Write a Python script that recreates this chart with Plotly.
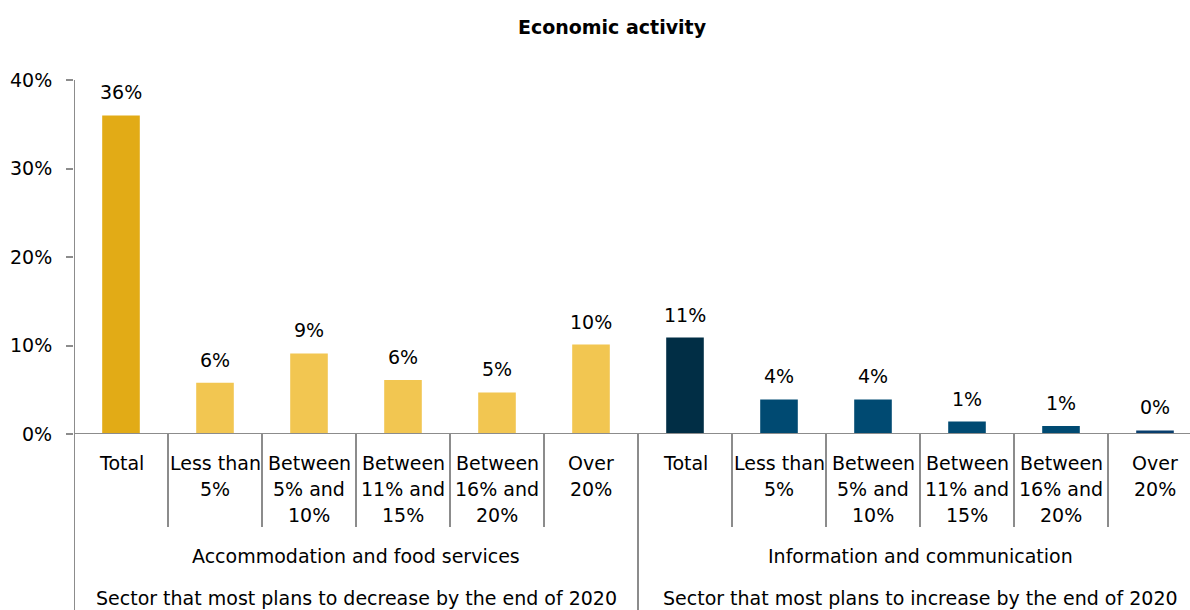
import plotly.graph_objects as go

# Survey shares by planned change in economic activity
categories = [
    "Total", "Less than<br>5%", "Between<br>5% and<br>10%", "Between<br>11% and<br>15%",
    "Between<br>16% and<br>20%", "Over<br>20%",
    "Total", "Less than<br>5%", "Between<br>5% and<br>10%", "Between<br>11% and<br>15%",
    "Between<br>16% and<br>20%", "Over<br>20%",
]
sectors = ["Accommodation and food services", "Information and communication"]
groups = [
    "Sector that most plans to decrease by the end of 2020",
    "Sector that most plans to increase by the end of 2020",
]
values = [36.0, 5.8, 9.1, 6.1, 4.7, 10.1, 10.9, 3.9, 3.9, 1.4, 0.9, 0.4]
colors = [
    "#E2AB16", "#F2C651", "#F2C651", "#F2C651", "#F2C651", "#F2C651",
    "#012E45", "#004A72", "#004A72", "#004A72", "#004A72", "#093E6D",
]
y_ticks = [0, 10, 20, 30, 40]

FONT = "DejaVu Sans"
AXIS_GREY = "#8C8C8C"
LINE_STEP = 26
x_idx = list(range(len(values)))

fig = go.Figure(
    go.Bar(
        x=x_idx,
        y=values,
        marker=dict(color=colors, line=dict(width=0)),
        width=0.4,
        hoverinfo="skip",
    )
)

annotations = []
# value labels above the bars
for i, v in enumerate(values):
    annotations.append(dict(
        x=i, xref="x", y=v, yref="y", yanchor="middle", yshift=23,
        text=f"{round(v):.0f}%", showarrow=False,
        font=dict(family=FONT, size=19, color="#000000"),
    ))
# first level: answer brackets, one annotation per text line
for i, c in enumerate(categories):
    for k, line in enumerate(c.split("<br>")):
        annotations.append(dict(
            x=i, xref="x", y=0, yref="paper", yanchor="middle",
            yshift=-29 - k * LINE_STEP,
            text=line, showarrow=False, align="center",
            font=dict(family=FONT, size=19, color="#000000"),
        ))
# second and third levels: sector and group
for g in range(2):
    mid = g * 6 + 2.5
    annotations.append(dict(
        x=mid, xref="x", y=0, yref="paper", yanchor="middle", yshift=-122,
        text=sectors[g], showarrow=False,
        font=dict(family=FONT, size=19, color="#000000"),
    ))
    annotations.append(dict(
        x=mid, xref="x", y=0, yref="paper", yanchor="middle", yshift=-164,
        text=groups[g], showarrow=False,
        font=dict(family=FONT, size=19, color="#000000"),
    ))

plot_h = 354
shapes = []
# separators between answer brackets
for i in range(1, len(values)):
    full = (i % 6 == 0)
    shapes.append(dict(
        type="line", xref="x", yref="paper",
        x0=i - 0.5, x1=i - 0.5, y0=0,
        y1=-(176 / plot_h) if full else -(93 / plot_h),
        line=dict(color=AXIS_GREY, width=2),
    ))
# left axis extended through the category rows
shapes.append(dict(
    type="line", xref="x", yref="paper",
    x0=-0.5, x1=-0.5, y0=1, y1=-(176 / plot_h),
    line=dict(color=AXIS_GREY, width=2),
))
# baseline
shapes.append(dict(
    type="line", xref="x", yref="y",
    x0=-0.5, x1=11.5, y0=0, y1=0,
    line=dict(color=AXIS_GREY, width=2),
))

fig.update_layout(
    width=1190,
    height=610,
    margin=dict(l=74, r=0, t=80, b=176),
    paper_bgcolor="white",
    plot_bgcolor="white",
    showlegend=False,
    title=dict(
        text="<b>Economic activity</b>",
        x=(612 - 74) / 1116, xref="paper", xanchor="center",
        y=1 - 27 / 610, yanchor="middle",
        font=dict(family=FONT, size=19, color="#000000"),
    ),
    xaxis=dict(
        range=[-0.5, -0.5 + 1116 / 94],
        showticklabels=False, showgrid=False, zeroline=False,
        showline=False, ticks="", fixedrange=True,
    ),
    yaxis=dict(
        range=[0, 40],
        tickvals=y_ticks,
        ticktext=[f"{t}%" for t in y_ticks],
        ticks="outside", ticklen=7, tickwidth=2, tickcolor=AXIS_GREY,
        showgrid=False, zeroline=False, showline=False,
        tickfont=dict(family=FONT, size=19, color="#000000"),
        ticklabelstandoff=10,
        fixedrange=True,
    ),
    annotations=annotations,
    shapes=shapes,
)

fig.write_html("out.html")
